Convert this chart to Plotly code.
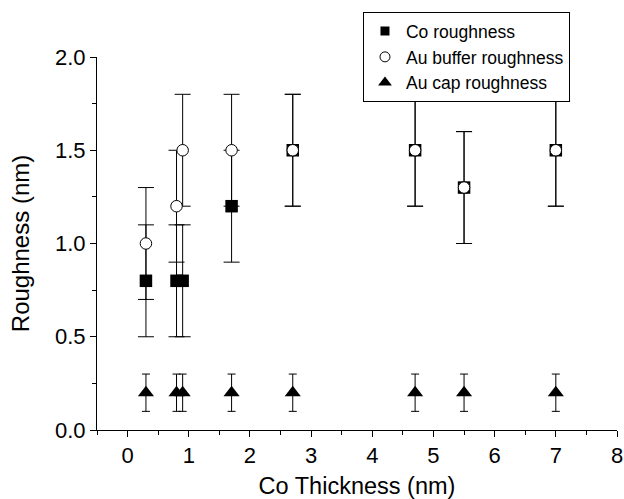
import plotly.graph_objects as go

# Data
co_thickness = [0.3, 0.8, 0.9, 1.7, 2.7, 4.7, 5.5, 7.0]
co_rough = [0.8, 0.8, 0.8, 1.2, 1.5, 1.5, 1.3, 1.5]
co_rough_err = [0.3, 0.3, 0.3, 0.3, 0.3, 0.3, 0.3, 0.3]
au_buffer = [1.0, 1.2, 1.5, 1.5, 1.5, 1.5, 1.3, 1.5]
au_buffer_err = [0.3, 0.3, 0.3, 0.3, 0.3, 0.3, 0.3, 0.3]
au_cap = [0.2, 0.2, 0.2, 0.2, 0.2, 0.2, 0.2, 0.2]
au_cap_err = [0.1, 0.1, 0.1, 0.1, 0.1, 0.1, 0.1, 0.1]

series_names = ["Co roughness", "Au buffer roughness", "Au cap roughness"]

FONT = "Liberation Sans, Arial, Helvetica, sans-serif"

sq = dict(symbol="square", color="black")
ci = dict(symbol="circle", color="white", line=dict(color="black", width=1))
tr = dict(symbol="triangle-up", color="black")

fig = go.Figure()
fig.add_trace(go.Scatter(
    x=co_thickness, y=co_rough, mode="markers", name=series_names[0], showlegend=False,
    marker=dict(size=12.5, **sq),
    error_y=dict(type="data", array=co_rough_err, color="black", thickness=1, width=8),
))
fig.add_trace(go.Scatter(
    x=co_thickness, y=au_buffer, mode="markers", name=series_names[1], showlegend=False,
    marker=dict(size=11.5, **ci),
    error_y=dict(type="data", array=au_buffer_err, color="black", thickness=1, width=8),
))
fig.add_trace(go.Scatter(
    x=co_thickness, y=au_cap, mode="markers", name=series_names[2], showlegend=False,
    marker=dict(size=14, **tr),
    error_y=dict(type="data", array=au_cap_err, color="black", thickness=1, width=4),
))
# legend entries (smaller symbols, as in the reference legend)
for nm, mk, sz in [(series_names[0], sq, 9), (series_names[1], ci, 10), (series_names[2], tr, 12)]:
    fig.add_trace(go.Scatter(x=[None], y=[None], mode="markers", name=nm,
                             marker=dict(size=sz, **mk), showlegend=True))

fig.update_layout(
    width=624, height=499,
    margin=dict(l=97, r=7, t=57, b=69),
    paper_bgcolor="white", plot_bgcolor="white",
    font=dict(family=FONT, color="black", size=22),
    legend=dict(
        x=0.5115, y=1.12, xanchor="left", yanchor="top",
        bordercolor="black", borderwidth=1, bgcolor="white",
        font=dict(family=FONT, size=17.5, color="black"),
        itemsizing="trace", itemwidth=32, tracegroupgap=0,
    ),
    showlegend=True,
)
fig.update_xaxes(
    range=[-0.5, 8], tickmode="linear", tick0=0, dtick=1, automargin=False,
    showline=True, linecolor="black", linewidth=1, mirror=False,
    showgrid=False, zeroline=False,
    ticks="outside", ticklen=6, tickwidth=1, tickcolor="black",
    minor=dict(ticks="outside", ticklen=4, tickwidth=1, tickcolor="black", dtick=0.5, tick0=0, showgrid=False),
    tickfont=dict(size=22),
    title=dict(text="Co Thickness (nm)", font=dict(size=23.5), standoff=12),
)
fig.update_yaxes(
    range=[0, 2.0], tickmode="linear", tick0=0, dtick=0.5, tickformat=".1f", automargin=False,
    showline=True, linecolor="black", linewidth=1, mirror=False,
    showgrid=False, zeroline=False,
    ticks="outside", ticklen=6, tickwidth=1, tickcolor="black",
    minor=dict(ticks="outside", ticklen=4, tickwidth=1, tickcolor="black", dtick=0.25, tick0=0, showgrid=False),
    tickfont=dict(size=22),
    title=dict(text="Roughness (nm)", font=dict(size=24), standoff=18),
)

fig.write_html("out.html")
